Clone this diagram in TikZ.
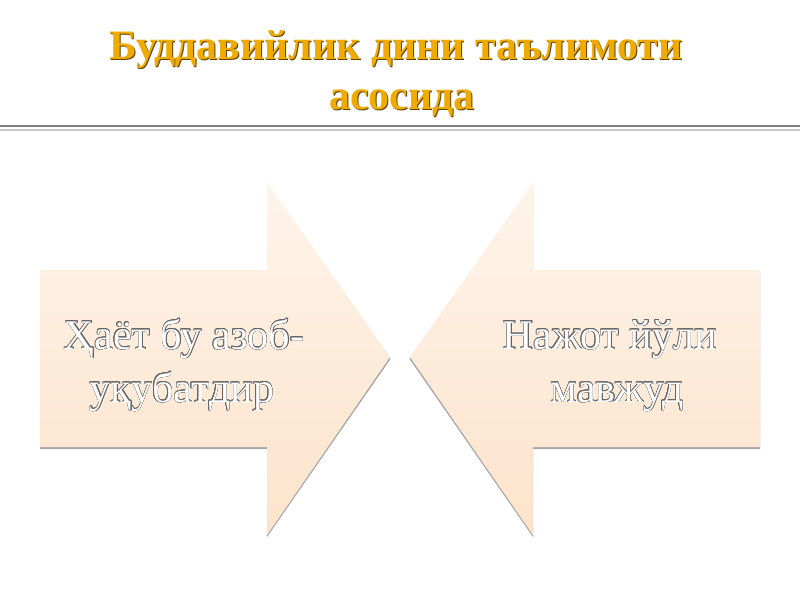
\documentclass[tikz,border=0pt]{standalone}
\usepackage{fontspec}
\setmainfont{Liberation Serif}
\usepackage{xcolor}
\usepackage{contour}
\usepackage{tikz}
\usetikzlibrary{positioning}
\definecolor{titlegold}{HTML}{F0AB00}
\definecolor{titleshade}{HTML}{5C4300}
\definecolor{arrowtop}{HTML}{FEF4EA}
\definecolor{arrowbot}{HTML}{FDE3CB}
\definecolor{arrowshade}{HTML}{A6A6A6}
\contourlength{0.3pt}
\tikzstyle{ttl} = [font=\fontsize{29.8}{36}\selectfont\bfseries, anchor=base, inner sep=0pt]
\tikzstyle{lbl} = [font=\fontsize{30}{38}\selectfont, anchor=base, inner sep=0pt, text=white]
\tikzstyle{arw} = [top color=arrowtop, bottom color=arrowbot, draw=none]
\tikzstyle{arwshade} = [fill=arrowshade]
\newcommand{\otext}[1]{\contour{black!60}{#1}}
\begin{document}
\begin{tikzpicture}[x=0.025cm, y=-0.025cm]
\useasboundingbox (0,0) rectangle (800,600);
\node [ttl, text=titleshade] (titlea shade) at (397,60) {Буддавийлик дини таълимоти};
\node [ttl, text=titlegold] (titlea) at (396,59) {Буддавийлик дини таълимоти};
\node [ttl, text=titleshade] (titleb shade) at (403,110) {асосида};
\node [ttl, text=titlegold] (titleb) at (402,109) {асосида};
\draw [color=black!50, line width=1pt] (0,126) -- (800,126);
\draw [color=black!22, line width=1.4pt] (0,130) -- (800,130);
\fill [arwshade] (40,272) -- (267,272) -- (267,184) -- (390.5,359) -- (267,537) -- (267,449) -- (40,449) -- cycle;
\shade [arw] (40,270) -- (267,270) -- (267,182) -- (390,357) -- (267,535) -- (267,447) -- (40,447) -- cycle;
\fill [arwshade] (760,272) -- (533,272) -- (533,184) -- (409.5,359) -- (533,537) -- (533,449) -- (760,449) -- cycle;
\shade [arw] (760,270) -- (533,270) -- (533,182) -- (410,357) -- (533,535) -- (533,447) -- (760,447) -- cycle;
\node [lbl] (lifea) at (184,349) {\otext{Ҳаёт бу азоб-}};
\node [lbl] (lifeb) at (182,402) {\otext{уқубатдир}};
\node [lbl] (waya) at (610,349) {\otext{Нажот йўли}};
\node [lbl] (wayb) at (617,402) {\otext{мавжуд}};
\end{tikzpicture}
\end{document}
